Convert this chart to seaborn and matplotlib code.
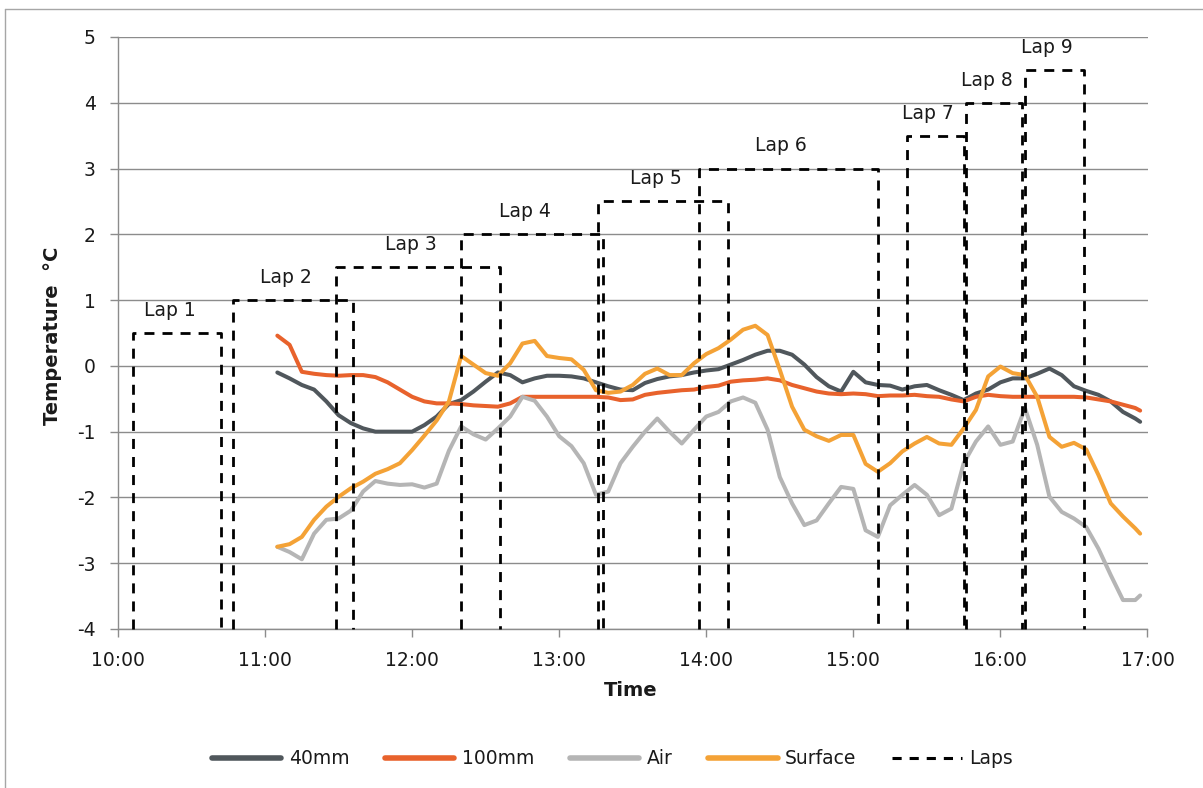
import numpy as np
import pandas as pd
import matplotlib
matplotlib.use("Agg")
import matplotlib.pyplot as plt
from matplotlib.lines import Line2D
import seaborn as sns

# DATOS
# Muestras cada 5 minutos, en minutos desde las 10:00 (la última a las 16:57)
MINUTES = list(range(65, 416, 5)) + [417]

TEMP_40MM = [
    -0.10, -0.19, -0.29, -0.36, -0.54, -0.75, -0.87, -0.95, -1.00, -1.00,
    -1.00, -1.00, -0.90, -0.77, -0.58, -0.52, -0.39, -0.24, -0.10, -0.14,
    -0.25, -0.19, -0.15, -0.15, -0.16, -0.19, -0.25, -0.31, -0.36, -0.37,
    -0.26, -0.20, -0.16, -0.14, -0.10, -0.07, -0.05, 0.02, 0.09, 0.17,
    0.23, 0.23, 0.17, 0.02, -0.17, -0.31, -0.39, -0.09, -0.25, -0.29,
    -0.30, -0.36, -0.31, -0.29, -0.37, -0.44, -0.52, -0.42, -0.36, -0.25,
    -0.19, -0.19, -0.12, -0.04, -0.14, -0.31, -0.38, -0.44, -0.54, -0.70,
    -0.80, -0.85]

TEMP_100MM = [
    0.46, 0.32, -0.09, -0.12, -0.14, -0.15, -0.14, -0.14, -0.17, -0.25,
    -0.36, -0.47, -0.54, -0.57, -0.57, -0.58, -0.60, -0.61, -0.62, -0.57,
    -0.47, -0.47, -0.47, -0.47, -0.47, -0.47, -0.47, -0.48, -0.52, -0.51,
    -0.44, -0.41, -0.39, -0.37, -0.36, -0.32, -0.30, -0.24, -0.22, -0.21,
    -0.19, -0.22, -0.29, -0.34, -0.39, -0.42, -0.43, -0.42, -0.43, -0.46,
    -0.45, -0.45, -0.44, -0.46, -0.47, -0.51, -0.54, -0.47, -0.44, -0.46,
    -0.47, -0.47, -0.47, -0.47, -0.47, -0.47, -0.48, -0.51, -0.54, -0.59,
    -0.64, -0.68]

TEMP_AIR = [
    -2.75, -2.83, -2.94, -2.55, -2.34, -2.32, -2.20, -1.91, -1.75, -1.79,
    -1.81, -1.80, -1.85, -1.79, -1.29, -0.92, -1.04, -1.12, -0.95, -0.77,
    -0.47, -0.53, -0.77, -1.07, -1.22, -1.48, -1.96, -1.91, -1.48, -1.23,
    -1.00, -0.80, -1.00, -1.18, -0.97, -0.77, -0.70, -0.54, -0.48, -0.56,
    -0.97, -1.69, -2.09, -2.42, -2.35, -2.09, -1.84, -1.87, -2.50, -2.60,
    -2.12, -1.96, -1.81, -1.96, -2.27, -2.17, -1.48, -1.15, -0.92, -1.20,
    -1.15, -0.64, -1.20, -1.99, -2.22, -2.32, -2.45, -2.78, -3.18, -3.56,
    -3.56, -3.49]

TEMP_SURFACE = [
    -2.75, -2.71, -2.60, -2.34, -2.14, -1.99, -1.86, -1.76, -1.64, -1.57,
    -1.48, -1.28, -1.06, -0.83, -0.54, 0.15, 0.02, -0.11, -0.15, 0.04,
    0.34, 0.38, 0.15, 0.12, 0.10, -0.06, -0.37, -0.41, -0.39, -0.29,
    -0.12, -0.04, -0.14, -0.14, 0.04, 0.18, 0.27, 0.40, 0.55, 0.61,
    0.47, -0.06, -0.62, -0.97, -1.07, -1.14, -1.05, -1.05, -1.49, -1.61,
    -1.48, -1.30, -1.18, -1.08, -1.18, -1.20, -0.95, -0.67, -0.16, -0.01,
    -0.11, -0.14, -0.47, -1.08, -1.23, -1.17, -1.27, -1.66, -2.09, -2.29,
    -2.47, -2.55]

SERIES = ["40mm", "100mm", "Air", "Surface"]
PALETTE = {
    "40mm": "#50575c",
    "100mm": "#e8622c",
    "Air": "#b5b5b5",
    "Surface": "#f4a236",
}

# Vueltas: inicio, fin y altura del escalón
LAP_NAMES = ["Lap 1", "Lap 2", "Lap 3", "Lap 4", "Lap 5", "Lap 6", "Lap 7", "Lap 8", "Lap 9"]
LAP_START = ["10:06", "10:47", "11:29", "12:20", "13:16", "13:57", "15:22", "15:46", "16:10"]
LAP_END = ["10:42", "11:36", "12:36", "13:18", "14:09", "15:10", "15:45", "16:09", "16:34"]
LAP_LEVEL = [0.5, 1.0, 1.5, 2.0, 2.5, 3.0, 3.5, 4.0, 4.5]

X_TICKS = ["10:00", "11:00", "12:00", "13:00", "14:00", "15:00", "16:00", "17:00"]
Y_TICKS = [-4, -3, -2, -1, 0, 1, 2, 3, 4, 5]

GRIS = "#8c8c8c"
TEXTO = "#1a1a1a"
DASH = (0, (3.6, 2.9))


def to_hours(hhmm):
    h, m = hhmm.split(":")
    return int(h) + int(m) / 60


sns.set_theme(style="white")
plt.rcParams["font.family"] = ["DejaVu Sans"]
plt.rcParams["axes.unicode_minus"] = False

df = pd.DataFrame({
    "Hour": 10 + np.array(MINUTES) / 60,
    "40mm": TEMP_40MM,
    "100mm": TEMP_100MM,
    "Air": TEMP_AIR,
    "Surface": TEMP_SURFACE,
}).melt(id_vars="Hour", var_name="Series", value_name="Temperature")

fig = plt.figure(figsize=(12.03, 7.88), dpi=100)
ax = fig.add_axes([118 / 1203, 1 - 629 / 788, 1029.5 / 1203, 592 / 788])

sns.lineplot(data=df, x="Hour", y="Temperature", hue="Series", hue_order=SERIES,
             palette=PALETTE, linewidth=2.9, estimator=None, legend=False, ax=ax, zorder=3)

# Escalones discontinuos de cada vuelta con su etiqueta
for name, start, end, level in zip(LAP_NAMES, LAP_START, LAP_END, LAP_LEVEL):
    x0, x1 = to_hours(start), to_hours(end)
    ax.plot([x0, x0, x1, x1], [-4, level, level, -4], color="black", lw=2.0,
            linestyle=DASH, zorder=5, clip_on=False)
    ax.text((x0 + x1) / 2 - 0.05, level + 0.2, name, ha="center", va="bottom",
            fontsize=13.5, color=TEXTO, zorder=6)

ax.set_xlim(10, 17)
ax.set_ylim(-4, 5)
ax.set_xticks(range(10, 18))
ax.set_xticklabels(X_TICKS)
ax.set_yticks(Y_TICKS)
ax.yaxis.grid(True, color=GRIS, lw=1.0)
ax.xaxis.grid(False)
for lado in ["top", "right"]:
    ax.spines[lado].set_visible(False)
for lado in ["left", "bottom"]:
    ax.spines[lado].set_color(GRIS)
    ax.spines[lado].set_linewidth(1.0)
ax.tick_params(axis="both", direction="out", length=6, width=1, color=GRIS,
               labelsize=13.5, labelcolor=TEXTO, pad=10)
ax.tick_params(axis="x", bottom=True)
ax.tick_params(axis="y", left=True)

ax.set_xlabel("Time", fontsize=14, fontweight="bold", color=TEXTO)
ax.set_ylabel("Temperature  °C", fontsize=14, fontweight="bold", color=TEXTO)
ax.xaxis.set_label_coords(0.498, -0.088)
ax.yaxis.set_label_coords(-0.054, 0.495)

handles = [Line2D([], [], color=PALETTE[s], lw=4) for s in SERIES]
handles.append(Line2D([], [], color="black", lw=2.2, linestyle=(0, (3, 2.6))))
fig.legend(handles, SERIES + ["Laps"], loc="center", bbox_to_anchor=(0.509, 1 - 759 / 788),
           ncol=5, frameon=False, fontsize=13.5, handlelength=3.7, handletextpad=0.4,
           columnspacing=1.9, labelcolor=TEXTO)

# Marco exterior (solo arriba e izquierda quedan visibles)
fig.add_artist(Line2D([5 / 1203, 5 / 1203], [0, 1 - 9 / 788], transform=fig.transFigure,
                      color="#a6a6a6", lw=1))
fig.add_artist(Line2D([5 / 1203, 1], [1 - 9 / 788, 1 - 9 / 788], transform=fig.transFigure,
                      color="#a6a6a6", lw=1))

fig.savefig("out.png", dpi=100)
plt.close(fig)
